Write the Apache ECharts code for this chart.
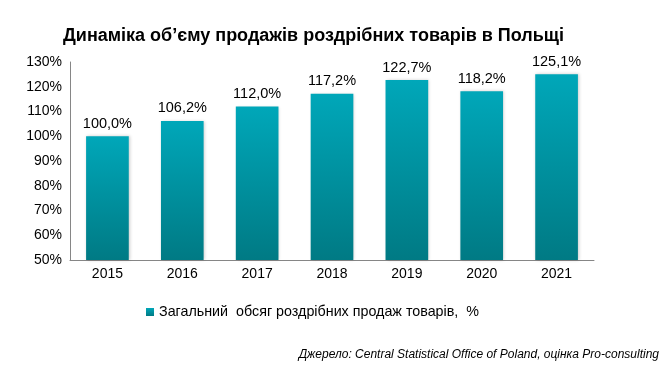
<!DOCTYPE html>
<html><head><meta charset="utf-8">
<script src="https://cdn.jsdelivr.net/npm/echarts@6/dist/echarts.min.js"></script>
<style>html,body{margin:0;padding:0;background:#fff}#c{width:672px;height:372px}</style>
</head><body><div id="c"></div>
<script>
const categories = ['2015','2016','2017','2018','2019','2020','2021'];
const values = [100.0, 106.2, 112.0, 117.2, 122.7, 118.2, 125.1];
const yMin = 50, yMax = 130, yStep = 10;
const seriesName = 'Загальний  обсяг роздрібних продаж товарів,  %';
const titleText = 'Динаміка об’єму продажів роздрібних товарів в Польщі';
const sourceText = 'Джерело: Central Statistical Office of Poland, оцінка Pro-consulting';

const fmt = v => v.toFixed(1).replace('.', ',') + '%';
const chart = echarts.init(document.getElementById('c'), null, {renderer:'canvas'});
chart.setOption({
  animation:false,
  textStyle:{fontFamily:'Liberation Sans, Arial, sans-serif'},
  title:{text:titleText, left:58, top:22,
    textStyle:{fontSize:18, fontWeight:'bold', color:'#000', fontFamily:'Liberation Sans, Arial, sans-serif'}},
  grid:{left:70, right:78, top:62, bottom:112},
  xAxis:{type:'category', data:categories,
    axisLine:{lineStyle:{color:'#868686', width:1}}, axisTick:{show:false},
    axisLabel:{color:'#000', fontSize:14, margin:7}},
  yAxis:{type:'value', min:yMin, max:yMax, interval:yStep,
    axisLine:{show:true, lineStyle:{color:'#868686'}}, axisTick:{show:false},
    splitLine:{show:false},
    axisLabel:{color:'#000', fontSize:14, margin:8, formatter:v=>v+'%'}},
  legend:{show:true, left:141, top:300, itemWidth:8, itemHeight:8, itemGap:4,
    icon:'rect', textStyle:{fontSize:14.3, color:'#000'}, data:[seriesName]},
  series:[{name:seriesName, type:'bar', data:values, barWidth:'57%',
    itemStyle:{color:new echarts.graphic.LinearGradient(0,0,0,1,[
      {offset:0,color:'#00A7B9'},{offset:1,color:'#007A84'}]),
      shadowColor:'rgba(0,0,0,0.2)', shadowBlur:3, shadowOffsetX:1},
    label:{show:true, position:'top', distance:5, fontSize:14.5, color:'#000', formatter:p=>fmt(p.value)}}],
  graphic:[{type:'text', right:13, top:349,
    style:{text:sourceText, fontSize:12, fontStyle:'italic', fill:'#000', fontFamily:'Liberation Sans, Arial, sans-serif'}}]
});
</script></body></html>
